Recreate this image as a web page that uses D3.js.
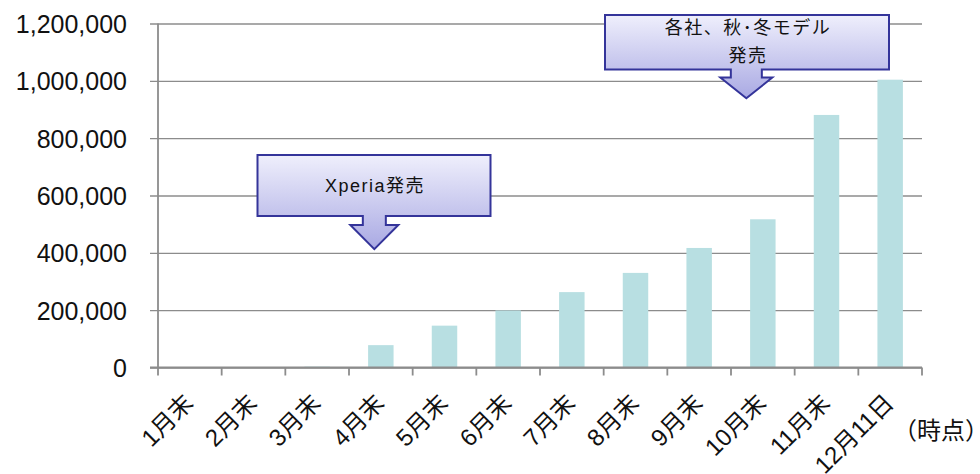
<!DOCTYPE html>
<html>
<head>
<meta charset="utf-8">
<script src="https://cdn.jsdelivr.net/npm/d3@7"></script>
<style>
  html, body { margin: 0; padding: 0; background: #fff; overflow: hidden; }
  svg { display: block; }
  text { font-family: "Liberation Sans", "Noto Sans CJK JP", sans-serif; fill: #111; }
</style>
</head>
<body>
<div id="chart"></div>
<script>
"use strict";

/*** Data */
const categories = ["1月末", "2月末", "3月末", "4月末", "5月末", "6月末", "7月末", "8月末", "9月末", "10月末", "11月末", "12月11日"];
const values = [0, 0, 3000, 78000, 146000, 199000, 263000, 330000, 417000, 517000, 881000, 1004000];
const yTicks = [0, 200000, 400000, 600000, 800000, 1000000, 1200000];
const unitLabel = "（時点）";

/* callouts: which band the arrow points at, and the value of the arrow tip */
const calloutLines = [["Xperia発売"], ["各社、秋･冬モデル", "発売"]];
const calloutCats = ["4月末", "10月末"];
const calloutTipValues = [413000, 939000];

/*** Dimensions */
const w = 980;
const h = 474;
const margin = {left: 158, right: 58, top: 23.5, bottom: 106.5};

const svg = d3.select("#chart")
    .append("svg")
    .attr("width", w)
    .attr("height", h);

const x = d3.scaleBand()
    .domain(categories)
    .range([margin.left, w - margin.right])
    .padding(0);

const y = d3.scaleLinear()
    .domain([0, 1200000])
    .range([h - margin.bottom, margin.top]);

/** gradient for the callouts */
const defs = svg.append("defs");
const grad = defs.append("linearGradient")
    .attr("id", "calloutFill")
    .attr("x1", 0).attr("y1", 0).attr("x2", 0).attr("y2", 1);
grad.append("stop").attr("offset", "0%").attr("stop-color", "#efeffc");
grad.append("stop").attr("offset", "100%").attr("stop-color", "#a9a9e3");

/** Gridlines + y axis */
const yAxis = d3.axisLeft(y)
    .tickValues(yTicks)
    .tickSize(-(w - margin.right - margin.left))
    .tickFormat(d3.format(","));

const gy = svg.append("g")
    .attr("transform", "translate(" + margin.left + ",0)")
    .call(yAxis);
gy.select(".domain").remove();
gy.selectAll(".tick line")
    .attr("x1", -8)
    .attr("stroke", "#8c8c8c")
    .attr("stroke-width", 1.4);
gy.selectAll(".tick text")
    .attr("x", -31)
    .attr("dy", "0.36em")
    .style("font-size", "25px")
    .style("fill", "#111");

/** Bars */
const bw = x.bandwidth() * 0.4;
svg.append("g")
    .selectAll("rect")
    .data(values)
    .enter()
    .append("rect")
    .attr("x", (d, i) => x(categories[i]) + (x.bandwidth() - bw) / 2)
    .attr("y", d => y(d))
    .attr("width", bw)
    .attr("height", d => y(0) - y(d))
    .attr("fill", "#b8dfe2");

/** Axis lines */
svg.append("line")
    .attr("x1", margin.left).attr("x2", margin.left)
    .attr("y1", y(1200000)).attr("y2", y(0))
    .attr("stroke", "#8c8c8c").attr("stroke-width", 1.8);

const bounds = categories.map(c => x(c)).concat([x.range()[1]]);
const gx = svg.append("g");
gx.append("line")
    .attr("x1", margin.left - 8).attr("x2", x.range()[1])
    .attr("y1", y(0)).attr("y2", y(0))
    .attr("stroke", "#8c8c8c").attr("stroke-width", 1.8);
gx.selectAll(".xt")
    .data(bounds)
    .enter()
    .append("line")
    .attr("x1", d => d).attr("x2", d => d)
    .attr("y1", y(0)).attr("y2", y(0) + 8)
    .attr("stroke", "#8c8c8c").attr("stroke-width", 1.8);

/** X labels, rotated */
gx.selectAll(".xl")
    .data(categories)
    .enter()
    .append("text")
    .attr("transform", d => "translate(" + (x(d) + x.bandwidth() / 2 - 1) + "," + (y(0) + 31) + ") rotate(-45)")
    .attr("text-anchor", "end")
    .attr("dominant-baseline", "central")
    .style("font-size", "24px")
    .text(d => d);

svg.append("text")
    .attr("x", 893)
    .attr("y", 430)
    .attr("dominant-baseline", "central")
    .style("font-size", "24px")
    .text(unitLabel);

/** Callouts (down-arrow boxes) */
const boxes = [
    {left: 257.5, right: 490.5, top: 155, bottom: 216, stem: 11.5, head: 24, headTop: 225, dx: -6.5},
    {left: 605, right: 889, top: 15, bottom: 69.5, stem: 15.5, head: 26, headTop: 77.5, dx: -16.5}
];

boxes.forEach((b, i) => {
    const tx = x(calloutCats[i]) + x.bandwidth() / 2 + b.dx;
    const ty = y(calloutTipValues[i]);
    const p = d3.path();
    p.moveTo(b.left, b.top);
    p.lineTo(b.right, b.top);
    p.lineTo(b.right, b.bottom);
    p.lineTo(tx + b.stem, b.bottom);
    p.lineTo(tx + b.stem, b.headTop);
    p.lineTo(tx + b.head, b.headTop);
    p.lineTo(tx, ty);
    p.lineTo(tx - b.head, b.headTop);
    p.lineTo(tx - b.stem, b.headTop);
    p.lineTo(tx - b.stem, b.bottom);
    p.lineTo(b.left, b.bottom);
    p.closePath();
    svg.append("path")
        .attr("d", p.toString())
        .attr("fill", "url(#calloutFill)")
        .attr("stroke", "#34349a")
        .attr("stroke-width", 2)
        .attr("stroke-linejoin", "miter");

    const lines = calloutLines[i];
    const cx = (b.left + b.right) / 2;
    const lh = 27.5;
    const cy = (b.top + b.bottom) / 2 - (lines.length - 1) * lh / 2 + (lines.length > 1 ? -0.5 : 0);
    lines.forEach((t, j) => {
        svg.append("text")
            .attr("x", cx + (i === 1 ? 1 : 1))
            .attr("y", cy + j * lh)
            .attr("text-anchor", "middle")
            .attr("dominant-baseline", "central")
            .style("font-size", "18px")
            .style("letter-spacing", "1.5px")
            .text(t);
    });
});
</script>
</body>
</html>
